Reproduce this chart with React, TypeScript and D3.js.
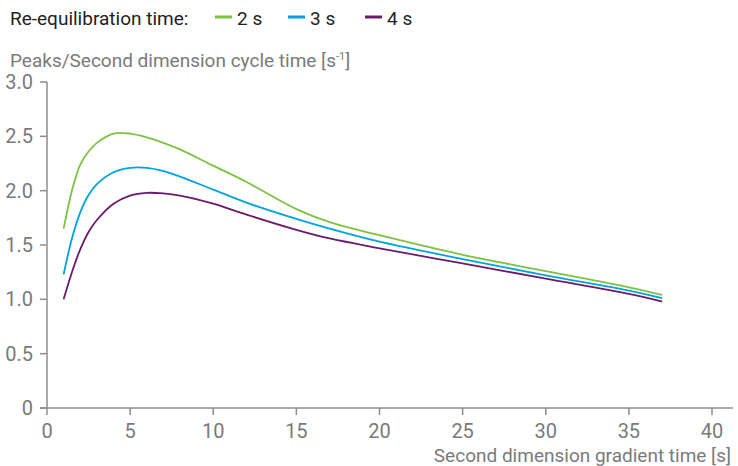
import React from 'react';
import * as d3 from 'd3';

const gradientTime = [1, 1.5, 2, 2.5, 3, 4, 5, 6, 7, 8, 10, 12, 15, 17, 20, 25, 30, 35, 37];
const peaks2s = [1.65, 2.0, 2.24, 2.36, 2.44, 2.525, 2.525, 2.49, 2.44, 2.38, 2.23, 2.08, 1.83, 1.71, 1.59, 1.41, 1.26, 1.11, 1.04];
const peaks3s = [1.23, 1.56, 1.8, 1.96, 2.06, 2.17, 2.21, 2.21, 2.18, 2.13, 2.01, 1.89, 1.74, 1.65, 1.53, 1.37, 1.22, 1.08, 1.01];
const peaks4s = [1.0, 1.25, 1.46, 1.62, 1.73, 1.88, 1.955, 1.98, 1.975, 1.955, 1.88, 1.78, 1.64, 1.56, 1.47, 1.33, 1.19, 1.05, 0.98];
const seriesLabels = ['2 s', '3 s', '4 s'];
const xTicks = [0, 5, 10, 15, 20, 25, 30, 35, 40];
const yTicks = [0, 0.5, 1.0, 1.5, 2.0, 2.5, 3.0];

const colors = ['#7dc242', '#00a3e0', '#6a1b6a'];
const font = '"Liberation Sans Narrow", "Roboto", sans-serif';

export default function App() {
  const width = 738;
  const height = 466;
  const margin = { left: 47, right: 26, top: 82, bottom: 58 };

  const x = d3.scaleLinear().domain([0, 40]).range([margin.left, width - margin.right]);
  const y = d3.scaleLinear().domain([0, 3]).range([height - margin.bottom, margin.top]);

  const line = d3.line<[number, number]>()
    .x(d => x(d[0]))
    .y(d => y(d[1]))
    .curve(d3.curveCatmullRom.alpha(0.5));

  const series = [peaks2s, peaks3s, peaks4s].map(vals =>
    gradientTime.map((t, i) => [t, vals[i]] as [number, number])
  );

  const legendX = [215, 288, 365];
  const axisColor = '#8c8c8c';
  const textGrey = '#7a7a7a';

  return (
    <svg width={width} height={height} style={{ position: 'absolute', left: 0, top: 0, background: '#fff' }}>
      {/* legend */}
      <text x={10} y={25} fontFamily={font} fontSize={19} fill="#222">Re-equilibration time:</text>
      {seriesLabels.map((s, i) => (
        <g key={s}>
          <line x1={legendX[i]} x2={legendX[i] + 17} y1={17} y2={17} stroke={colors[i]} strokeWidth={3} />
          <text x={legendX[i] + 22} y={25} fontFamily={font} fontSize={19} fill="#222">{s}</text>
        </g>
      ))}

      {/* y axis title */}
      <text x={10} y={67} fontFamily={font} fontSize={19} fill={textGrey}>
        Peaks/Second dimension cycle time [s<tspan dy={-7} fontSize={11}>-1</tspan><tspan dy={7}>]</tspan>
      </text>

      {/* y axis */}
      <line x1={x(0)} x2={x(0)} y1={y(0)} y2={y(3)} stroke={axisColor} strokeWidth={1.5} />
      {yTicks.map(t => (
        <g key={t}>
          <line x1={x(0) - 7} x2={x(0)} y1={y(t)} y2={y(t)} stroke={axisColor} strokeWidth={1.5} />
          <text x={33} y={y(t) + 7} textAnchor="end" fontFamily={font} fontSize={20} fill={textGrey}>
            {t === 0 ? '0' : d3.format('.1f')(t)}
          </text>
        </g>
      ))}

      {/* x axis */}
      <line x1={x(0) - 7} x2={733} y1={y(0)} y2={y(0)} stroke={axisColor} strokeWidth={1.5} />
      {xTicks.map(t => (
        <g key={t}>
          <line x1={x(t)} x2={x(t)} y1={y(0)} y2={y(0) + 7} stroke={axisColor} strokeWidth={1.5} />
          <text x={x(t)} y={y(0) + 30} textAnchor="middle" fontFamily={font} fontSize={20} fill={textGrey}>{t}</text>
        </g>
      ))}
      <text x={731} y={462} textAnchor="end" fontFamily={font} fontSize={19} fill={textGrey}>
        Second dimension gradient time [s]
      </text>

      {/* curves */}
      {series.map((d, i) => (
        <path key={i} d={line(d) || ''} fill="none" stroke={colors[i]} strokeWidth={1.8} />
      ))}
    </svg>
  );
}
